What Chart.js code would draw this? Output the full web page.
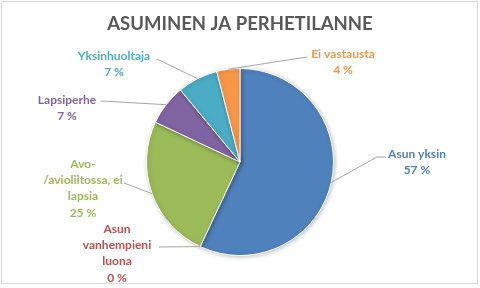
<!DOCTYPE html>
<html>
<head>
<meta charset="utf-8">
<script src="https://cdn.jsdelivr.net/npm/chart.js@4"></script>
<style>
  html, body { margin: 0; padding: 0; background: #fff; }
  #wrap { width: 480px; height: 288px; }
</style>
</head>
<body>
<div id="wrap"><canvas id="pie" width="480" height="288"></canvas></div>
<script>
// data
const chartTitle = 'ASUMINEN JA PERHETILANNE';
const categories = ['Asun yksin', 'Asun vanhempieni luona', 'Avo-/avioliitossa, ei lapsia', 'Lapsiperhe', 'Yksinhuoltaja', 'Ei vastausta'];
const values = [57, 0, 25, 7, 7, 4];

// how each label is wrapped in the picture
const labelLines = [
    ['Asun yksin'],
    ['Asun', 'vanhempieni', 'luona'],
    ['Avo-', '/avioliitossa, ei', 'lapsia'],
    ['Lapsiperhe'],
    ['Yksinhuoltaja'],
    ['Ei vastausta']
];

const colors = ['#4F81BD', '#C0504D', '#9BBB59', '#8064A2', '#4BACC6', '#F79646'];

// label boxes: centre x, first line y, start of leader line
const labelPos = [
    { x: 417, y: 154, lx: 386, ly: 157, bend: 377 },
    { x: 117, y: 229, lx: 159, ly: 247 },
    { x: 83,  y: 164, lx: 124, ly: 183 },
    { x: 67,  y: 100, lx: 101, ly: 101 },
    { x: 114, y: 56,  lx: 157, ly: 59 },
    { x: 343, y: 54,  lx: 307, ly: 57 }
];

const labelPlugin = {
    id: 'sliceLabels',
    afterDatasetsDraw(chart) {
        const ctx = chart.ctx;
        const arcs = chart.getDatasetMeta(0).data;
        ctx.save();
        // leader lines
        ctx.strokeStyle = '#A6A6A6';
        ctx.lineWidth = 1;
        arcs.forEach((arc, i) => {
            const p = labelPos[i];
            const mid = (arc.startAngle + arc.endAngle) / 2;
            const ex = arc.x + Math.cos(mid) * arc.outerRadius;
            const ey = arc.y + Math.sin(mid) * arc.outerRadius;
            ctx.beginPath();
            ctx.moveTo(p.lx, p.ly);
            if (p.bend) ctx.lineTo(p.bend, p.ly);
            ctx.lineTo(ex, ey);
            ctx.stroke();
        });
        // texts
        ctx.font = 'bold 12px Lato';
        ctx.textAlign = 'center';
        ctx.textBaseline = 'middle';
        arcs.forEach((arc, i) => {
            const p = labelPos[i];
            const lines = labelLines[i].concat([values[i] + ' %']);
            ctx.fillStyle = colors[i];
            lines.forEach((t, k) => ctx.fillText(t, p.x, p.y + k * 16.3));
        });
        // title
        ctx.font = 'bold 18.5px Lato';
        ctx.fillStyle = '#595959';
        ctx.fillText(chartTitle, 240, 24);
        // outer frame
        ctx.strokeStyle = '#D9D9D9';
        ctx.strokeRect(1.5, 1.5, 476, 282);
        ctx.restore();
    }
};

const shadowPlugin = {
    id: 'pieShadow',
    beforeDatasetsDraw(chart) {
        chart.ctx.save();
        chart.ctx.shadowColor = 'rgba(0,0,0,0.25)';
        chart.ctx.shadowBlur = 4;
        chart.ctx.shadowOffsetX = 1;
        chart.ctx.shadowOffsetY = 1;
    },
    afterDatasetsDraw(chart) {
        chart.ctx.restore();
    }
};

const chart = new Chart(document.getElementById('pie'), {
    type: 'pie',
    data: {
        labels: categories,
        datasets: [{
            data: values,
            backgroundColor: colors,
            borderColor: '#FFFFFF',
            borderWidth: 1,
            hoverOffset: 0
        }]
    },
    options: {
        responsive: false,
        animation: false,
        events: [],
        layout: { padding: { top: 68, bottom: 32, left: 0, right: 0 } },
        plugins: {
            legend: { display: false },
            title: { display: false },
            tooltip: { enabled: false }
        }
    },
    plugins: [shadowPlugin, labelPlugin]
});
</script>
</body>
</html>
